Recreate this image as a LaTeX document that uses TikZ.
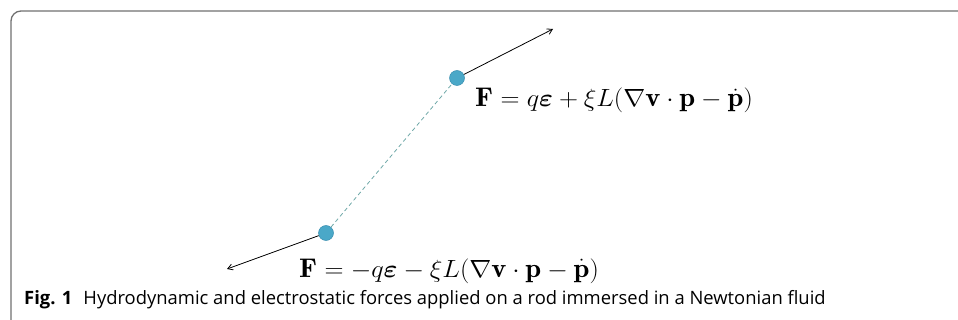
\documentclass[tikz,border=0pt]{standalone}
\usepackage{amsmath,bm}
\usepackage{fontspec}
\setsansfont{Open Sans}
\usetikzlibrary{arrows.meta}
\definecolor{ball}{HTML}{4AA8C8}
\definecolor{balledge}{HTML}{3A8FB0}
\definecolor{dashc}{HTML}{6FA8A8}
\definecolor{framec}{HTML}{707070}
\tikzset{
  ballnode/.style={circle,fill=ball,draw=balledge,line width=0.5pt,minimum size=15pt,inner sep=0pt},
  force/.style={-{Straight Barb[length=5pt,width=6pt]},line width=0.8pt,black},
  eqnode/.style={inner sep=0pt,anchor=base west,font=\fontsize{27}{32}\selectfont},
  captext/.style={inner sep=0pt,anchor=base west,font=\sffamily\fontsize{18.4}{21}\selectfont}
}
\begin{document}
\begin{tikzpicture}[x=1pt,y=-1pt]
\useasboundingbox (0,0) rectangle (958,320);
\draw[framec,line width=1.3pt] (11,320) -- (11,21) arc[start angle=180,end angle=270,radius=10] -- (958,11);
\node[ballnode] (top) at (457,78) {};
\node[ballnode] (bot) at (326,233) {};
\draw[dashc,line width=0.8pt,dash pattern=on 4pt off 3pt] (bot) -- (top);
\coordinate (tipA) at (553,29);
\coordinate (tipB) at (227,269);
\draw[force] (top) -- (tipA);
\draw[force] (bot) -- (tipB);
\node[eqnode] (eqA) at (475,107) {\scalebox{1.06}[1]{$\mathbf{F}=q\bm{\varepsilon}+\xi L(\nabla\mathbf{v}\cdot\mathbf{p}-\dot{\mathbf{p}})$}};
\node[eqnode] (eqB) at (299,277) {\scalebox{1.06}[1]{$\mathbf{F}=-q\bm{\varepsilon}-\xi L(\nabla\mathbf{v}\cdot\mathbf{p}-\dot{\mathbf{p}})$}};
\node[captext] (caption) at (24,305) {\textbf{Fig. 1}\hspace{0.6em}Hydrodynamic and electrostatic forces applied on a rod immersed in a Newtonian fluid};
\end{tikzpicture}
\end{document}
